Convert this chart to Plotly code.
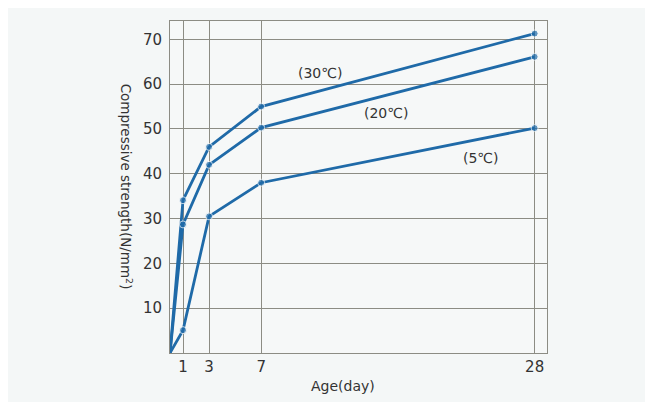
import plotly.graph_objects as go

age = [0, 1, 3, 7, 28]
s30 = [0, 34.1, 46.0, 55.0, 71.3]
s20 = [0, 28.7, 42.0, 50.3, 66.1]
s5 = [0, 5.1, 30.5, 38.0, 50.2]
labels = ["(30℃)", "(20℃)", "(5℃)"]
label_x = [11.5, 16.6, 23.9]
label_y = [62.4, 53.5, 43.5]
x_ticks = [1, 3, 7, 28]
y_ticks = [10, 20, 30, 40, 50, 60, 70]

FONT = "DejaVu Sans"
BLUE = "#1f6aa8"
GRID = "#8c8c84"
TXT = "#333333"

fig = go.Figure()
for s in (s30, s20, s5):
    fig.add_trace(go.Scatter(x=age, y=s, mode="lines+markers",
                             line=dict(color=BLUE, width=2.8),
                             marker=dict(color=BLUE, size=[0, 7, 7, 7, 7]),
                             showlegend=False, cliponaxis=False))

for t, x, y in zip(labels, label_x, label_y):
    fig.add_annotation(x=x, y=y, text=t, showarrow=False,
                       font=dict(family=FONT, size=14, color=TXT))

fig.add_annotation(xref="paper", yref="paper", x=-0.145, y=0.5,
                   text="Compressive strength(N/mm<sup>2</sup>)", textangle=90,
                   showarrow=False, font=dict(family=FONT, size=13.5, color=TXT))
fig.add_annotation(xref="paper", yref="paper", x=0.46, y=-0.07,
                   yanchor="top",
                   text="Age(day)", showarrow=False,
                   font=dict(family=FONT, size=14, color=TXT))

fig.update_xaxes(range=[0, 28.95], tickvals=x_ticks, showgrid=True,
                 gridcolor=GRID, gridwidth=1, zeroline=False,
                 showline=True, linecolor=GRID, linewidth=1, mirror=True,
                 ticks="", tickfont=dict(family=FONT, size=15, color=TXT))
fig.update_yaxes(range=[0, 74.1], tickvals=y_ticks, showgrid=True,
                 gridcolor=GRID, gridwidth=1, zeroline=False,
                 showline=True, linecolor=GRID, linewidth=1, mirror=True,
                 ticks="", ticklabelstandoff=4,
                 tickfont=dict(family=FONT, size=15, color=TXT))

fig.update_layout(width=645, height=394,
                  margin=dict(l=162, r=106, t=13, b=49),
                  paper_bgcolor="#f4f7f7", plot_bgcolor="#f6f8f8")

fig.write_html("out.html")
